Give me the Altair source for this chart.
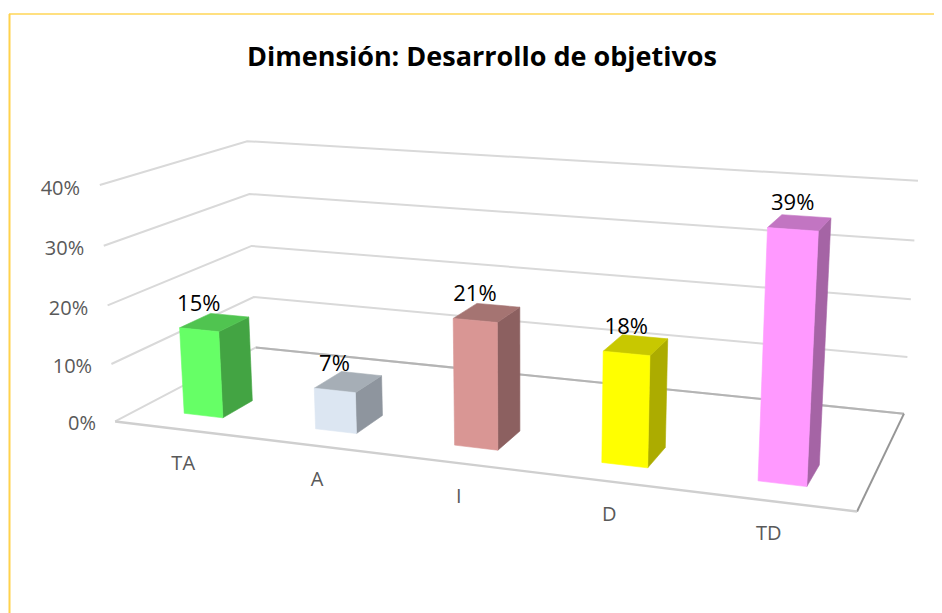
import numpy as np
import pandas as pd
import altair as alt

# ---- values ----
categories = ["TA", "A", "I", "D", "TD"]
values = [15, 7, 21, 18, 39]
labels = ["15%", "7%", "21%", "18%", "39%"]
front_colors = ["#66FF66", "#DCE6F2", "#D99694", "#FFFF00", "#FF99FF"]
side_colors = ["#43A443", "#8E959E", "#8C6060", "#ACAC00", "#A564A5"]
top_colors = ["#50C450", "#A6AEB6", "#A57472", "#C8C800", "#C275C2"]
value_ticks = [0, 10, 20, 30, 40]
title_text = "Dimensión: Desarrollo de objetivos"
AX_MAX = 40

# ---- perspective camera calibrated on the box of the 3-D chart ----
W3 = [(0, 0, 0), (1, 0, 0), (1, 1, 0), (0, 1, 0), (0, 0, 1), (0, 1, 1), (1, 1, 1)]
IM = [(115, 421), (857, 512), (904, 413), (256, 348), (100, 185), (247, 141), (918, 181)]
rows = []
for (a, b, c), (px, py) in zip(W3, IM):
    rows.append([a, b, c, 1, 0, 0, 0, 0, -px * a, -px * b, -px * c, -px])
    rows.append([0, 0, 0, 0, a, b, c, 1, -py * a, -py * b, -py * c, -py])
CAM = np.linalg.svd(np.array(rows, float))[2][-1].reshape(3, 4)


def project(u, v, val):
    p = CAM @ np.array([u, v, val / AX_MAX, 1.0])
    return float(p[0] / p[2]), float(p[1] / p[2])


HALF_W = 0.03
V0, V1 = 0.16, 0.37

faces = []
def add_face(name, color, corners):
    for k, (u, v, z) in enumerate(corners + corners[:1]):
        x, y = project(u, v, z)
        faces.append(dict(face=name, color=color, k=k, x=x, y=y))

for i, val in enumerate(values):
    c = (i + 0.5) / len(values) - 0.001
    a, b = c - HALF_W, c + HALF_W
    add_face(f"{i}s", side_colors[i], [(b, V0, 0), (b, V1, 0), (b, V1, val), (b, V0, val)])
    add_face(f"{i}t", top_colors[i], [(a, V0, val), (b, V0, val), (b, V1, val), (a, V1, val)])
    add_face(f"{i}f", front_colors[i], [(a, V0, 0), (b, V0, 0), (b, V0, val), (a, V0, val)])

lines = []
def add_line(name, color, width, pts):
    for k, (u, v, z) in enumerate(pts):
        x, y = project(u, v, z)
        lines.append(dict(name=name, color=color, w=width, k=k, x=x, y=y))

for t in value_ticks:
    add_line(f"g{t}", "#D9D9D9", 2.0, [(0, 0, t), (0, 1, t), (1, 1, t)])
add_line("back", "#B4B4B4", 2.0, [(0, 1, 0), (1, 1, 0)])
add_line("side", "#969696", 2.0, [(1, 1, 0), (1, 0, 0)])
add_line("front", "#CFCFCF", 2.4, [(0, 0, 0), (1, 0, 0)])

tick_rows = []
for t in value_ticks:
    x, y = project(-0.03, 0, t)
    tick_rows.append(dict(x=x, y=y + 5, text=f"{t}%"))
cat_rows = []
for i, name in enumerate(categories):
    x, y = project((i + 0.5) / len(categories), 0.08, 0)
    cat_rows.append(dict(x=x, y=y, text=name))
lab_rows = []
for i, val in enumerate(values):
    x, y = project((i + 0.5) / len(values), V0, val)
    lab_rows.append(dict(x=x, y=y, text=labels[i]))

df_faces = pd.DataFrame(faces)
df_lines = pd.DataFrame(lines)

X = alt.Scale(domain=[8, 934], range=[0, 926])
Y = alt.Scale(domain=[8, 613], range=[0, 605])
xq = alt.X("x:Q", scale=X, axis=None)
yq = alt.Y("y:Q", scale=Y, axis=None)

frame_top = alt.Chart(pd.DataFrame({"a": [0]})).mark_rule(color="#FFE080", strokeWidth=2).encode(
    x=alt.value(1), x2=alt.value(926), y=alt.value(6))
frame_left = alt.Chart(pd.DataFrame({"a": [0]})).mark_rule(color="#FFD24D", strokeWidth=2).encode(
    x=alt.value(1.5), y=alt.value(6), y2=alt.value(605))

grid = alt.Chart(df_lines).mark_line(strokeJoin="miter").encode(
    x=xq, y=yq, detail="name:N", order="k:Q",
    color=alt.Color("color:N", scale=None),
    strokeWidth=alt.StrokeWidth("w:Q", scale=None))

bars = alt.Chart(df_faces).mark_line(strokeWidth=0.6, strokeJoin="round").encode(
    x=xq, y=yq, detail="face:N", order="k:Q",
    stroke=alt.Stroke("color:N", scale=None),
    fill=alt.Fill("color:N", scale=None))

font = "Open Sans"
ticks_txt = alt.Chart(pd.DataFrame(tick_rows)).mark_text(
    align="right", baseline="middle", font=font, fontSize=20, color="#595959"
).encode(x=xq, y=yq, text="text:N")
cats_txt = alt.Chart(pd.DataFrame(cat_rows)).mark_text(
    align="center", baseline="middle", font=font, fontSize=20, color="#595959", dx=-9, dy=42
).encode(x=xq, y=yq, text="text:N")
labs_txt = alt.Chart(pd.DataFrame(lab_rows)).mark_text(
    align="center", baseline="middle", font=font, fontSize=22, color="#000000", dx=-1, dy=-26
).encode(x=xq, y=yq, text="text:N")

chart = alt.layer(frame_top, frame_left, grid, bars, ticks_txt, cats_txt, labs_txt).properties(
    width=926, height=605,
    padding=0,
    autosize=alt.AutoSizeParams(type="none"),
    background="#FFFFFF",
    title=alt.TitleParams(title_text, anchor="middle", font=font, fontSize=27, fontWeight="bold",
                          color="#000000", baseline="alphabetic", offset=0, dx=11, dy=85),
).configure_view(stroke=None)

chart.save("out.html", embed_options={"renderer": "svg", "actions": False})
